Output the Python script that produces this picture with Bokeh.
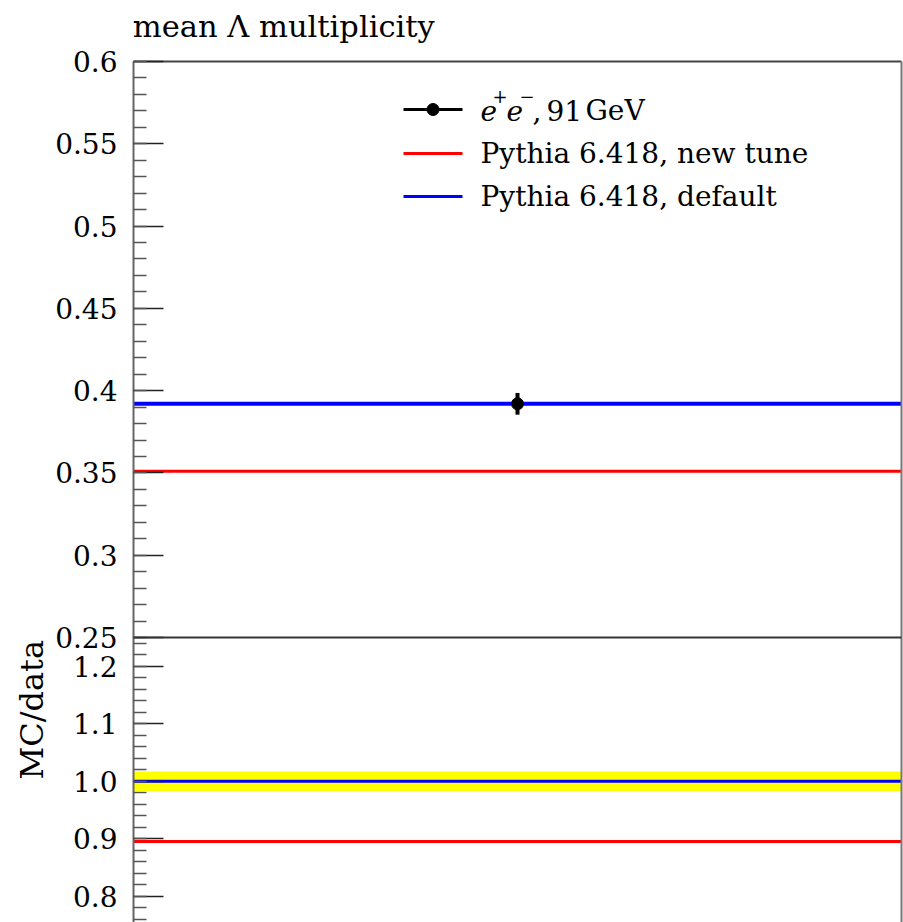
import math
from bokeh.plotting import figure
from bokeh.models import (FixedTicker, CustomJSTickFormatter, Label, LinearAxis, Range1d,
                          Span, Title)
from bokeh.embed import file_html
from bokeh.resources import INLINE

FONT = "DejaVu Serif"

# ---------------- data ----------------
x_edges = [0.5, 1.5]
data_x = [1.0]
data_y = [0.392]
data_err = [0.0066]
mc_new = [0.351]
mc_default = [0.392]
title_text = "mean Λ multiplicity"
legend_labels = ["Pythia 6.418, new tune", "Pythia 6.418, default"]
top_ticks = [0.25, 0.3, 0.35, 0.4, 0.45, 0.5, 0.55, 0.6]
top_tick_labels = ["0.25", "0.3", "0.35", "0.4", "0.45", "0.5", "0.55", "0.6"]
ratio_ticks = [0.8, 0.9, 1.0, 1.1, 1.2]
ratio_tick_labels = ["0.8", "0.9", "1.0", "1.1", "1.2"]
ratio_label = "MC/data"

# ---------------- layout ----------------
W_TOT, H_TOT = 903, 922
L, R, T = 133, 2, 61
H1 = 576                      # main panel height in px
H2 = H_TOT - T - H1           # visible part of ratio panel
FW = W_TOT - L - R
TOP_Y0, TOP_Y1 = 0.25, 0.6
TOP_PPU = H1 / (TOP_Y1 - TOP_Y0)
RAT_Y1 = 1.25
RAT_PPU = 575.0

top_range = Range1d(TOP_Y1 - (H1 + H2) / TOP_PPU, TOP_Y1)
rat_range = Range1d(RAT_Y1 - H2 / RAT_PPU, RAT_Y1 + H1 / RAT_PPU)

def px_x(px):
    return x_edges[0] + (px - L) / FW * (x_edges[1] - x_edges[0])

def top_y(py):
    return TOP_Y1 - (py - T) / TOP_PPU

def rat_to_top(r):
    return TOP_Y0 - (RAT_Y1 - r) * RAT_PPU / TOP_PPU

fmt_code = """
let best = 0; let bd = Infinity;
for (let i = 0; i < vals.length; i++) { const d = Math.abs(vals[i] - tick); if (d < bd) { bd = d; best = i; } }
return labs[best];
"""

p = figure(width=W_TOT, height=H_TOT, output_backend="svg", toolbar_location=None,
           x_range=(x_edges[0], x_edges[1]), y_range=top_range,
           x_axis_location=None, min_border_left=L, min_border_right=R,
           min_border_top=T, min_border_bottom=0)
p.extra_y_ranges = {"ratio": rat_range}
p.grid.visible = False
p.outline_line_color = None
p.background_fill_color = "white"
p.border_fill_color = "white"

# left axis carrying both panels' ticks
ax = p.yaxis[0]
all_ticks = top_ticks + [rat_to_top(r) for r in ratio_ticks]
all_labels = top_tick_labels + ratio_tick_labels
minor = [round(0.25 + 0.01 * i, 4) for i in range(36)] + \
        [rat_to_top(round(0.76 + 0.02 * i, 4)) for i in range(25)]
ax.ticker = FixedTicker(ticks=all_ticks, minor_ticks=minor)
ax.formatter = CustomJSTickFormatter(args=dict(vals=all_ticks, labs=all_labels), code=fmt_code)
ax.major_tick_in = 30
ax.major_tick_out = 0
ax.minor_tick_in = 13
ax.minor_tick_out = 0
ax.major_tick_line_color = "#222222"
ax.minor_tick_line_color = "#555555"
ax.major_tick_line_width = 1.5
ax.minor_tick_line_width = 1.5
ax.axis_line_color = "#666666"
ax.axis_line_width = 2
ax.major_label_text_font = FONT
ax.major_label_text_font_size = "28px"
ax.major_label_text_color = "black"
ax.major_label_standoff = 16

def frame_axis(loc, color, **kw):
    a = LinearAxis(ticker=FixedTicker(ticks=[]), major_label_text_font_size="0px",
                   major_label_standoff=0, major_tick_in=0, major_tick_out=0,
                   minor_tick_in=0, minor_tick_out=0,
                   axis_line_color=color, axis_line_width=2, **kw)
    p.add_layout(a, loc)

frame_axis("right", "#777777")
# top frame line carrying the plot title as its label; the label is centred on
# the frame's left edge, so it is padded on the left to start at that edge
pad = "\u00a0" * 31
frame_axis("above", "#444444", axis_label=pad + title_text, axis_label_align="start",
           axis_label_standoff=18, axis_label_text_font=FONT,
           axis_label_text_font_size="30.5px", axis_label_text_font_style="normal",
           axis_label_text_color="black")

# separator between main and ratio panel
p.add_layout(Span(location=TOP_Y0, dimension="width", line_color="#333333", line_width=2))

p.add_layout(Title(text=ratio_label, text_font=FONT, text_font_size="32px",
                   text_font_style="normal", text_color="black", align="left",
                   offset=H_TOT - 779, standoff=4), "left")

# ---------------- main panel ----------------
p.segment(x0=[x_edges[0]], x1=[x_edges[1]], y0=mc_new, y1=mc_new, line_color="#ff0000", line_width=3)
p.segment(x0=[x_edges[0]], x1=[x_edges[1]], y0=mc_default, y1=mc_default, line_color="#0000ff", line_width=4)
p.segment(x0=data_x, x1=data_x, y0=[v - e for v, e in zip(data_y, data_err)],
          y1=[v + e for v, e in zip(data_y, data_err)], line_color="black", line_width=4)
p.scatter(x=data_x, y=data_y, size=12, marker="circle", fill_color="black", line_color="black")

# ---------------- ratio panel ----------------
rel = [e / v for v, e in zip(data_y, data_err)]
p.quad(left=[x_edges[0]], right=[x_edges[1]], bottom=[1 - r for r in rel], top=[1 + r for r in rel],
       fill_color="#ffff00", line_color=None, y_range_name="ratio")
ratio_new = [m / d for m, d in zip(mc_new, data_y)]
ratio_def = [m / d for m, d in zip(mc_default, data_y)]
p.segment(x0=[x_edges[0]], x1=[x_edges[1]], y0=[1.0], y1=[1.0], line_color="black", line_width=1,
          y_range_name="ratio")
p.segment(x0=[x_edges[0]], x1=[x_edges[1]], y0=ratio_new, y1=ratio_new, line_color="#ff0000",
          line_width=3, y_range_name="ratio")
p.segment(x0=[x_edges[0]], x1=[x_edges[1]], y0=ratio_def, y1=ratio_def, line_color="#0000ff",
          line_width=3, y_range_name="ratio")

# ---------------- legend ----------------
LX0, LX1, LTX = 403, 462, 480
rows = [109, 153, 196]
for r, c in zip(rows, ["black", "#ff0000", "#0000ff"]):
    p.segment(x0=[px_x(LX0)], x1=[px_x(LX1)], y0=[top_y(r)], y1=[top_y(r)], line_color=c, line_width=3)
p.scatter(x=[px_x((LX0 + LX1) / 2)], y=[top_y(rows[0])], size=12, marker="circle",
          fill_color="black", line_color="black")

def lab(x_px, base_px, text, size=28, style="normal", xoff=0):
    corr = 0.33 * size   # compensate text box placement
    l = Label(x=px_x(x_px), y=top_y(base_px - corr), text=text, text_font=FONT,
              text_font_size=f"{size}px", text_font_style=style, text_color="black",
              x_offset=xoff, text_baseline="alphabetic")
    p.add_layout(l)

b0 = rows[0] + 10
lab(LTX, b0, "e", style="italic", xoff=0)
lab(LTX, b0 - 18, "+", size=18, xoff=12)
lab(LTX, b0, "e", style="italic", xoff=26)
lab(LTX, b0 - 18, "−", size=18, xoff=39)
lab(LTX, b0, ",", xoff=52)
lab(LTX, b0, "91", xoff=66)
lab(LTX, b0, "GeV", xoff=105)
for r, t in zip(rows[1:], legend_labels):
    lab(LTX, r + 9.5, t)

open("out.html", "w").write(file_html(p, INLINE))
